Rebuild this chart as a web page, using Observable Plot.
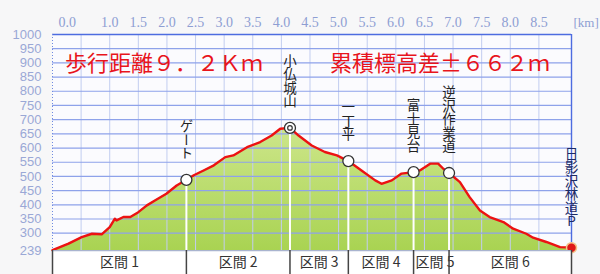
<!DOCTYPE html>
<html><head><meta charset="utf-8">
<script src="https://cdn.jsdelivr.net/npm/d3@7"></script>
<script src="https://cdn.jsdelivr.net/npm/@observablehq/plot@0.6"></script>
<style>
body{margin:0;background:#f7f7f8;}
#wrap{position:relative;width:600px;height:274px;overflow:hidden;}
#wrap svg{display:block;}
.title{position:absolute;top:45px;font-family:"Noto Sans CJK JP";font-size:22px;color:#e8141c;line-height:32px;white-space:nowrap;}
</style></head><body><div id="wrap"></div>
<script>
// ---- data ----
const profileKm   = [0, 0.28, 0.51, 0.69, 0.86, 1.0, 1.09, 1.12, 1.24, 1.36, 1.5, 1.65, 1.79, 1.99, 2.17, 2.34, 2.47, 2.64, 2.82, 3.02, 3.16, 3.40, 3.63, 3.83, 3.98, 4.15, 4.30, 4.53, 4.76, 4.97, 5.17, 5.40, 5.64, 5.75, 5.93, 6.10, 6.31, 6.42, 6.60, 6.74, 6.83, 6.93, 7.12, 7.29, 7.47, 7.64, 7.88, 8.05, 8.28, 8.40, 8.63, 8.87, 9.07];
const profileElev = [240, 263, 286, 298, 296, 321, 351, 345, 357, 357, 374, 398, 415, 439, 468, 488, 504, 521, 539, 568, 574, 603, 621, 644, 668, 671, 644, 609, 586, 574, 554, 521, 486, 474, 486, 510, 515, 521, 545, 545, 527, 512, 480, 427, 380, 357, 339, 316, 298, 284, 269, 251, 249];

const pointNames = ["ゲート", "小仏城山", "一丁平", "富士見台", "逆沢作業道", "日影沢林道P"];
const pointKm    = [2.34, 4.15, 5.17, 6.31, 6.93, 9.07];
const pointElev  = [488, 671, 554, 515, 512, 249];

const sectionNames  = ["区間 1", "区間 2", "区間 3", "区間 4", "区間 5", "区間 6"];
const sectionBounds = [0, 2.34, 4.15, 5.17, 6.31, 6.93, 9.07];

const xTickLabels = [1.0, 1.5, 2.0, 2.5, 3.0, 3.5, 4.0, 4.5, 5.0, 5.5, 6.0, 6.5, 7.0, 7.5, 8.0, 8.5];
const xGrid = [0.5, 1.0, 1.5, 2.0, 2.5, 3.0, 3.5, 4.0, 4.5, 5.0, 5.5, 6.0, 6.5, 7.0, 7.5, 8.0, 8.5];
const yTickLabels = [239, 300, 350, 400, 450, 500, 550, 600, 650, 700, 750, 800, 850, 900, 950, 1000];
const yGrid = [300, 350, 400, 450, 500, 550, 600, 650, 700, 750, 800, 850, 900, 950];

const title1 = "歩行距離９．２Ｋｍ";
const title2 = "累積標高差±６６２ｍ";

// ---- tables ----
const profile = profileKm.map((km, i) => ({km, elev: profileElev[i]}));
const points = pointNames.map((name, i) => ({name, km: pointKm[i], elev: pointElev[i], i}));
const sections = sectionNames.map((name, i) => ({name, x1: sectionBounds[i], x2: sectionBounds[i + 1]}));

const xDomain = [0, 9.07];
const yDomain = [239, 1000];
const tickFont = {fontFamily: "Liberation Serif", fontSize: 14, fill: "#8e9ed3"};

const defs = () => {
  const d = d3.create("svg:defs");
  const g = d.append("linearGradient").attr("id", "areaGrad").attr("x1", 0).attr("y1", 0).attr("x2", 0).attr("y2", 1);
  g.append("stop").attr("offset", "0%").attr("stop-color", "#cde68a");
  g.append("stop").attr("offset", "100%").attr("stop-color", "#a9d352");
  return d.node();
};

const main = Plot.plot({
  width: 600, height: 250,
  marginLeft: 52, marginRight: 29, marginTop: 34, marginBottom: 0,
  x: {domain: xDomain, axis: null},
  y: {domain: yDomain, axis: null},
  style: {background: "transparent", overflow: "visible"},
  marks: [
    defs,
    Plot.frame({fill: "#fbfbfe", stroke: "none"}),
    Plot.areaY(profile, {x: "km", y1: yDomain[0], y2: "elev", fill: "url(#areaGrad)"}),
    Plot.ruleX(xGrid, {stroke: "#c2cdf0", strokeWidth: 1}),
    Plot.ruleY(yGrid, {stroke: "#8ea2ea", strokeWidth: 1.2}),
    Plot.ruleY([yDomain[1]], {stroke: "#4d6ce0", strokeWidth: 1.6}),
    Plot.ruleX([xDomain[1]], {stroke: "#4d6ce0", strokeWidth: 1.4}),
    Plot.ruleX([xDomain[0]], {stroke: "#6f8ae2", strokeWidth: 1, strokeDasharray: "1,2"}),
    Plot.ruleX(points.slice(0, 5), {x: "km", y1: yDomain[0], y2: "elev", stroke: "white", strokeWidth: 2}),
    Plot.line(profile, {x: "km", y: "elev", stroke: "#ec1212", strokeWidth: 2.4, strokeLinejoin: "round"}),
    Plot.dot(points.slice(0, 5), {x: "km", y: "elev", r: 5.5, fill: "white", stroke: "#333", strokeWidth: 1.3}),
    Plot.dot(points.filter(d => d.name === "小仏城山"), {x: "km", y: "elev", r: 2.3, fill: "none", stroke: "#333", strokeWidth: 1.2}),
    Plot.dot(points.slice(5), {x: "km", y: "elev", r: 5, fill: "#e01818", stroke: "#f2c48a", strokeWidth: 1.5}),
    Plot.text(points, {x: "km", y: "elev", text: "name", dy: -20, textAnchor: "end", lineAnchor: "bottom",
      fontFamily: "Noto Sans CJK JP", fontSize: 13.5, fill: d => d.i === 5 ? "#1c2a66" : "#222"}),
    Plot.text(yTickLabels, {y: d => d, frameAnchor: "left", dx: -11, textAnchor: "end", text: d => String(d),
      fontFamily: "Liberation Sans", fontSize: 13, fill: "#9aa8d6"}),
    Plot.text(xTickLabels, {x: d => d, frameAnchor: "top", dy: -17, text: d => d.toFixed(1), ...tickFont}),
    Plot.text([0], {x: d => d, frameAnchor: "top", dy: -17, dx: 6, textAnchor: "start", text: d => d.toFixed(1), ...tickFont}),
    Plot.text(["[km]"], {frameAnchor: "top-right", dy: -17, dx: 2, textAnchor: "start", text: d => d, ...tickFont, fontSize: 13})
  ]
});

d3.select(main).selectAll("text")
  .filter(function () { return pointNames.includes(this.textContent); })
  .style("writing-mode", "vertical-rl")
  .style("text-orientation", "upright")
  .attr("dy", null);

const band = Plot.plot({
  width: 600, height: 24,
  marginLeft: 52, marginRight: 29, marginTop: 0, marginBottom: 0,
  x: {domain: xDomain, axis: null},
  y: {domain: [0, 1], axis: null},
  style: {background: "transparent"},
  marks: [
    Plot.frame({fill: "#ffffff", stroke: "none"}),
    Plot.ruleY([1], {stroke: "#a9b4cf", strokeWidth: 1.5}),
    Plot.text(sections.filter(d => d.x2 - d.x1 > 1), {x: d => (d.x1 + d.x2) / 2, frameAnchor: "middle", text: "name",
      fontFamily: "Noto Sans CJK JP", fontSize: 14, fill: "#333"}),
    Plot.text(sections.filter(d => d.x2 - d.x1 <= 1), {x: "x1", frameAnchor: "middle", dx: 2, textAnchor: "start", text: "name",
      fontFamily: "Noto Sans CJK JP", fontSize: 14, fill: "#333"}),
    Plot.ruleX(sectionBounds, {stroke: "#444", strokeWidth: 1.5})
  ]
});

const wrap = document.getElementById("wrap");
wrap.appendChild(main);
wrap.appendChild(band);
const t1 = document.createElement("div"); t1.className = "title"; t1.style.left = "65px"; t1.textContent = title1;
const t2 = document.createElement("div"); t2.className = "title"; t2.style.left = "330px"; t2.textContent = title2;
wrap.appendChild(t1); wrap.appendChild(t2);
</script>
</body></html>
